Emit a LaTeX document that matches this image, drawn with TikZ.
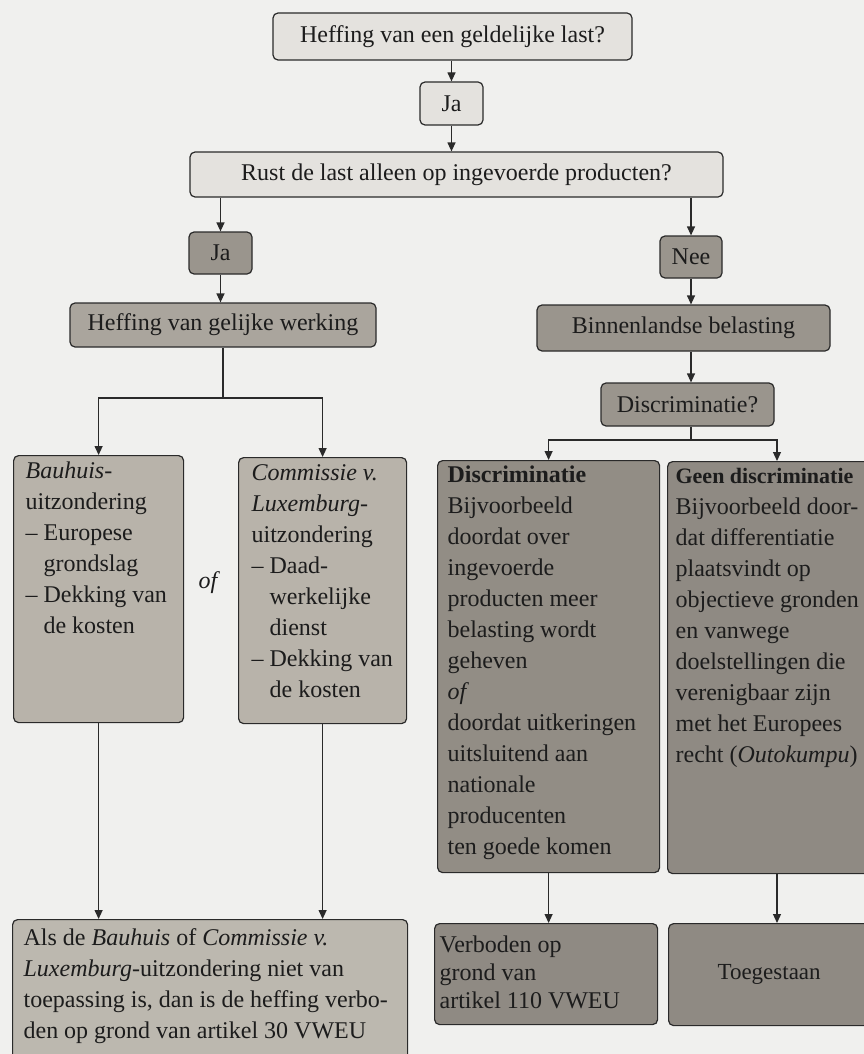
\documentclass[tikz,border=0pt]{standalone}
\usepackage{fontspec}
\setmainfont{Liberation Serif}
\usetikzlibrary{arrows.meta}
\definecolor{pagec}{HTML}{F0F0EE}
\definecolor{linec}{HTML}{2A2A2A}
\definecolor{textc}{HTML}{1C1C1C}
\definecolor{lightc}{HTML}{E4E2DE}
\definecolor{darkc}{HTML}{9A958D}
\definecolor{midc}{HTML}{AAA59D}
\definecolor{exc}{HTML}{B8B3AA}
\definecolor{disc}{HTML}{928D85}
\definecolor{resc}{HTML}{BCB8AF}
\definecolor{endc}{HTML}{8F8A83}
\newcommand{\boxtxt}[5]{\parbox[c][#2][t]{#1}{\raggedright\leftskip=#3\relax\vspace*{#4}\strut#5\par}}
\newcommand{\ind}{\hspace*{18pt}}
\tikzset{
  bx/.style={draw=linec, line width=1.2pt, rounded corners=5pt, inner sep=0pt, text=textc, font=\fontsize{24}{31}\selectfont},
  tall/.style={bx, anchor=north west},
  arr/.style={draw=linec, line width=1.2pt, -{Triangle[length=9pt,width=8pt]}},
  ln/.style={draw=linec, line width=1.2pt}
}
\begin{document}
\begin{tikzpicture}[x=1pt,y=-1pt]
\clip (0,0) rectangle (864,1054);
\fill[pagec] (0,0) rectangle (864,1054);

% top chain
\node[bx, fill=lightc, minimum width=359pt, minimum height=47pt] (q1) at (452.5,36.5) {Heffing van een geldelijke last?};
\node[bx, fill=lightc, minimum width=63pt, minimum height=43pt] (ja1) at (451.5,103.5) {Ja};
\node[bx, fill=lightc, minimum width=533pt, minimum height=45pt] (q2) at (456.5,174.5) {Rust de last alleen op ingevoerde producten?};
\node[bx, fill=darkc, minimum width=63pt, minimum height=42pt] (ja2) at (220.5,253) {Ja};
\node[bx, fill=darkc, minimum width=62pt, minimum height=42pt] (nee) at (691,257) {Nee};
\node[bx, fill=midc, minimum width=306pt, minimum height=44pt] (hgw) at (223,325) {Heffing van gelijke werking};
\node[bx, fill=darkc, minimum width=293pt, minimum height=46pt] (bb) at (683.5,328) {Binnenlandse belasting};
\node[bx, fill=darkc, minimum width=173pt, minimum height=43pt] (disq) at (687.5,404.5) {Discriminatie?};

% exceptions
\node[tall, fill=exc] (bau) at (13,455) {\boxtxt{170pt}{267pt}{12pt}{1.3pt}{\textit{Bauhuis-}\\
uitzondering\\
– Europese\\
\ind grondslag\\
– Dekking van\\
\ind de kosten}};
\node[tall, fill=exc] (com) at (238,457) {\boxtxt{168pt}{266pt}{13pt}{1.3pt}{\textit{Commissie v.}\\
\textit{Luxemburg-}\\
uitzondering\\
– Daad-\\
\ind werkelijke\\
\ind dienst\\
– Dekking van\\
\ind de kosten}};
\node[text=textc, font=\fontsize{24}{31}\selectfont\itshape, inner sep=0pt] (of) at (208,583) {of};

% discrimination
\node[tall, fill=disc] (dis) at (437,460) {\boxtxt{222pt}{412pt}{10pt}{0.3pt}{\textbf{Discriminatie}\\
Bijvoorbeeld\\
doordat over\\
ingevoerde\\
producten meer\\
belasting wordt\\
geheven\\
\textit{of}\\
doordat uitkeringen\\
uitsluitend aan\\
nationale\\
producenten\\
ten goede komen}};
\node[tall, fill=endc] (geen) at (667,461) {\boxtxt{212pt}{412pt}{8pt}{0pt}{{\fontsize{22}{31}\selectfont\textbf{Geen discriminatie}}\\
Bijvoorbeeld door-\\
dat differentiatie\\
plaatsvindt op\\
objectieve gronden\\
en vanwege\\
doelstellingen die\\
verenigbaar zijn\\
met het Europees\\
recht (\textit{Outokumpu})}};

% results
\node[tall, fill=resc] (res) at (12,919) {\boxtxt{395pt}{151pt}{11pt}{4.3pt}{Als de \textit{Bauhuis} of \textit{Commissie v.}\\
\textit{Luxemburg}-uitzondering niet van\\
toepassing is, dan is de heffing verbo-\\
den op grond van artikel 30 VWEU}};
\node[tall, fill=endc, font=\fontsize{24}{28}\selectfont] (verb) at (434,923) {\boxtxt{223pt}{101pt}{5pt}{9.4pt}{Verboden op\\
grond van\\
artikel 110 VWEU}};
\node[bx, fill=endc, minimum width=209pt, minimum height=102pt, anchor=north west, font=\fontsize{23}{28}\selectfont] (toeg) at (668,923) {\hspace*{-8pt}Toegestaan};

% connectors
\draw[arr] (ja1.north |- q1.south) -- (ja1.north);
\draw[arr] (ja1.south) -- (ja1.south |- q2.north);
\draw[arr] (ja2.north |- q2.south) -- (ja2.north);
\draw[arr] (nee.north |- q2.south) -- (nee.north);
\draw[arr] (ja2.south) -- (ja2.south |- hgw.north);
\draw[arr] (nee.south) -- (nee.south |- bb.north);
\draw[arr] (nee.south |- bb.south) -- (nee.south |- disq.north);

\coordinate (s1) at (223,398);
\draw[ln] (hgw.south) -- (s1);
\draw[arr] (s1) -| (bau.north);
\draw[arr] (s1) -| (com.north);

\coordinate (s2) at (691,440);
\coordinate (gx) at (777,440);
\draw[ln] (nee.south |- disq.south) -- (s2);
\draw[arr] (s2) -| (dis.north);
\draw[arr] (s2) -- (gx) -- (gx |- geen.north);

\draw[arr] (bau.south) -- (bau.south |- res.north);
\draw[arr] (com.south) -- (com.south |- res.north);
\draw[arr] (dis.south) -- (dis.south |- verb.north);
\draw[arr] (gx |- geen.south) -- (gx |- toeg.north);
\end{tikzpicture}
\end{document}
